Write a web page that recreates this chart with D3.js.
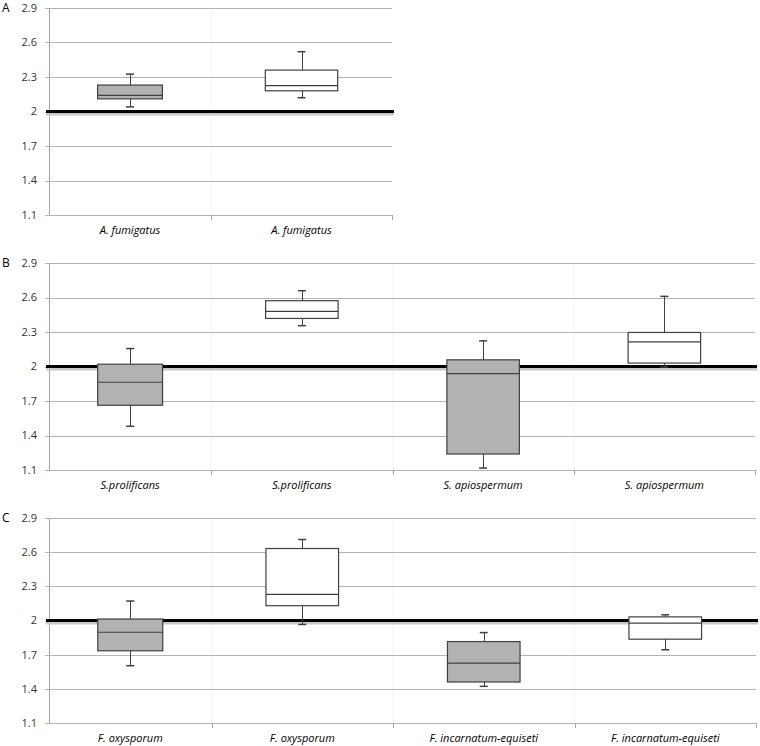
<!DOCTYPE html>
<html>
<head>
<meta charset="utf-8">
<script src="https://cdn.jsdelivr.net/npm/d3@7"></script>
<style>
  body { margin: 0; background: #fff; }
  svg text { font-family: "Open Sans", "Liberation Sans", sans-serif; }
</style>
</head>
<body>
<svg id="chart" width="760" height="746"></svg>
<script>
// tick values shared by all three panels
var yTicks = [1.1, 1.4, 1.7, 2.0, 2.3, 2.6, 2.9];
var refValue = 2.0;

// panel A
var catsA = ["A. fumigatus", "A. fumigatus"];
var lowA  = [2.04, 2.12];
var q1A   = [2.11, 2.18];
var medA  = [2.14, 2.225];
var q3A   = [2.23, 2.36];
var highA = [2.325, 2.52];

// panel B
var catsB = ["S.prolificans", "S.prolificans", "S. apiospermum", "S. apiospermum"];
var lowB  = [1.48, 2.355, 1.117, 1.995];
var q1B   = [1.663, 2.418, 1.239, 2.03];
var medB  = [1.863, 2.48, 1.938, 2.214];
var q3B   = [2.02, 2.572, 2.058, 2.296];
var highB = [2.156, 2.659, 2.223, 2.61];

// panel C
var catsC = ["F. oxysporum", "F. oxysporum", "F. incarnatum-equiseti", "F. incarnatum-equiseti"];
var lowC  = [1.603, 1.965, 1.422, 1.743];
var q1C   = [1.734, 2.13, 1.46, 1.836];
var medC  = [1.897, 2.23, 1.626, 1.977];
var q3C   = [2.013, 2.632, 1.815, 2.032];
var highC = [2.171, 2.711, 1.894, 2.05];

var svg = d3.select("#chart");

function panel(letter, cats, low, q1, med, q3, high, top, bottom, right) {
	var axisX = 49;
	var g = svg.append("g");

	var y = d3.scaleLinear().domain([1.1, 2.9]).range([bottom, top]);
	// excel-style bands: the first band is cut off by the value axis
	var x = d3.scaleBand().domain(d3.range(cats.length)).range([axisX - 19, right]).padding(0);

	// faint vertical separators
	g.selectAll(".vsep")
		.data(d3.range(1, cats.length))
		.enter().append("line")
		.attr("x1", function(i) { return x(i); })
		.attr("x2", function(i) { return x(i); })
		.attr("y1", top).attr("y2", bottom)
		.attr("stroke", "#f5f5f5");

	// horizontal gridlines
	g.selectAll(".grid")
		.data(yTicks)
		.enter().append("line")
		.attr("x1", axisX - 4).attr("x2", right)
		.attr("y1", function(d) { return Math.round(y(d)) + 0.5; })
		.attr("y2", function(d) { return Math.round(y(d)) + 0.5; })
		.attr("stroke", "#b4b4b4");

	// y tick labels
	g.selectAll(".ylab")
		.data(yTicks)
		.enter().append("text")
		.attr("x", 37).attr("y", function(d) { return y(d); })
		.attr("dy", "0.35em")
		.attr("text-anchor", "end")
		.attr("font-size", 11)
		.attr("fill", "#333")
		.text(function(d) { return d3.format(".1f")(d).replace(/\.0$/, ""); });

	// value axis
	g.append("line")
		.attr("x1", axisX + 0.5).attr("x2", axisX + 0.5)
		.attr("y1", top).attr("y2", bottom)
		.attr("stroke", "#a6a6a6");

	// category tick marks
	g.selectAll(".xtick")
		.data(d3.range(1, cats.length + 1))
		.enter().append("line")
		.attr("x1", function(i) { return Math.round(x(i) || x.range()[1]) + 0.5; })
		.attr("x2", function(i) { return Math.round(x(i) || x.range()[1]) + 0.5; })
		.attr("y1", bottom).attr("y2", bottom + 5)
		.attr("stroke", "#a6a6a6");

	// reference line with shadow
	g.append("line")
		.attr("x1", axisX - 3).attr("x2", right + 2)
		.attr("y1", y(refValue) + 2.5).attr("y2", y(refValue) + 2.5)
		.attr("stroke", "#c8c8c8").attr("stroke-width", 3);
	g.append("line")
		.attr("x1", axisX - 3).attr("x2", right + 2)
		.attr("y1", y(refValue)).attr("y2", y(refValue))
		.attr("stroke", "#000").attr("stroke-width", 3);

	function bandLeft(i) { return Math.max(x(i), axisX); }
	function cx(i) { return (bandLeft(i) + x(i) + x.bandwidth()) / 2; }
	function bw(i) { return 0.4 * (x(i) + x.bandwidth() - bandLeft(i)); }

	var boxes = g.selectAll(".box")
		.data(d3.range(cats.length))
		.enter().append("g");

	// whiskers
	boxes.append("line")
		.attr("x1", function(i) { return Math.round(cx(i)) + 0.5; })
		.attr("x2", function(i) { return Math.round(cx(i)) + 0.5; })
		.attr("y1", function(i) { return y(high[i]); })
		.attr("y2", function(i) { return y(low[i]); })
		.attr("stroke", "#404040");
	[high, low].forEach(function(arr) {
		boxes.append("line")
			.attr("x1", function(i) { return cx(i) - 4; })
			.attr("x2", function(i) { return cx(i) + 4; })
			.attr("y1", function(i) { return y(arr[i]); })
			.attr("y2", function(i) { return y(arr[i]); })
			.attr("stroke", "#404040").attr("stroke-width", 1.5);
	});

	// box
	boxes.append("rect")
		.attr("x", function(i) { return cx(i) - bw(i) / 2; })
		.attr("width", function(i) { return bw(i); })
		.attr("y", function(i) { return y(q3[i]); })
		.attr("height", function(i) { return y(q1[i]) - y(q3[i]); })
		.attr("fill", function(i) { return i % 2 === 0 ? "#b2b2b2" : "#fff"; })
		.attr("stroke", "#404040").attr("stroke-width", 1.2);

	// median
	boxes.append("line")
		.attr("x1", function(i) { return cx(i) - bw(i) / 2; })
		.attr("x2", function(i) { return cx(i) + bw(i) / 2; })
		.attr("y1", function(i) { return y(med[i]); })
		.attr("y2", function(i) { return y(med[i]); })
		.attr("stroke", "#404040").attr("stroke-width", 1.2);

	// category labels
	g.selectAll(".xlab")
		.data(cats)
		.enter().append("text")
		.attr("x", function(d, i) { return cx(i); })
		.attr("y", bottom + 19)
		.attr("text-anchor", "middle")
		.attr("font-size", 11)
		.attr("font-style", "italic")
		.attr("fill", "#000")
		.text(function(d) { return d; });

	// panel letter
	g.append("text")
		.attr("x", 2).attr("y", top)
		.attr("dy", "0.35em")
		.attr("font-size", 12)
		.attr("fill", "#000")
		.text(letter);
}

panel("A", catsA, lowA, q1A, medA, q3A, highA, 8, 215, 392);
panel("B", catsB, lowB, q1B, medB, q3B, highB, 263, 470, 755);
panel("C", catsC, lowC, q1C, medC, q3C, highC, 518, 723, 756);
</script>
</body>
</html>
